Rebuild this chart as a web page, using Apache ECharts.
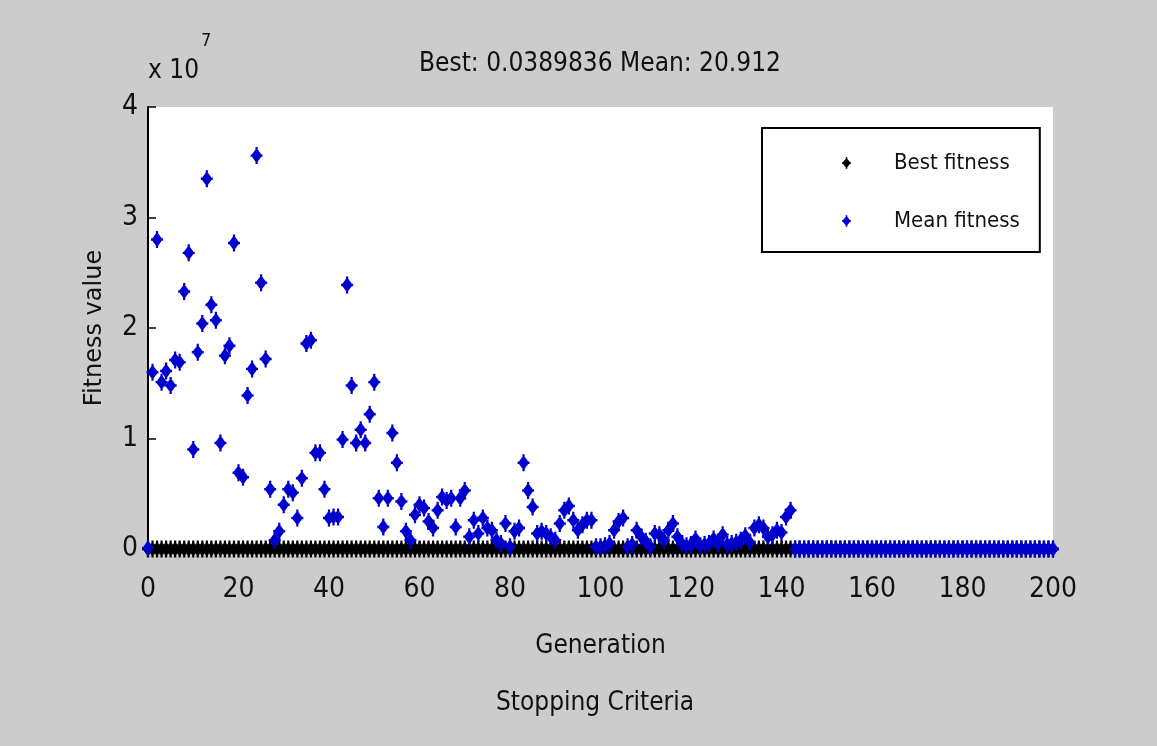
<!DOCTYPE html>
<html><head><meta charset="utf-8">
<script src="https://cdn.jsdelivr.net/npm/echarts@6/dist/echarts.min.js"></script>
<style>html,body{margin:0;padding:0;background:#cccccc;}#c{width:1157px;height:746px;}</style>
</head><body><div id="c"></div>
<script>
// values in units of 1e7
const xTicks = [0,20,40,60,80,100,120,140,160,180,200];
const yTicks = [0,1,2,3,4];
const bestFitness = [
0,0,0,0,0,0,0,0,0,0,0,0,0,0,0,0,0,0,0,0,
0,0,0,0,0,0,0,0,0,0,0,0,0,0,0,0,0,0,0,0,
0,0,0,0,0,0,0,0,0,0,0,0,0,0,0,0,0,0,0,0,
0,0,0,0,0,0,0,0,0,0,0,0,0,0,0,0,0,0,0,0,
0,0,0,0,0,0,0,0,0,0,0,0,0,0,0,0,0,0,0,0,
0,0,0,0,0,0,0,0,0,0,0,0,0,0,0,0,0,0,0,0,
0,0,0,0,0,0,0,0,0,0,0,0,0,0,0,0,0,0,0,0,
0,0,0,0,0,0,0,0,0,0,0,0,0,0,0,0,0,0,0,0,
0,0,0,0,0,0,0,0,0,0,0,0,0,0,0,0,0,0,0,0,
0,0,0,0,0,0,0,0,0,0,0,0,0,0,0,0,0,0,0,0,
0];
const meanFitness = [
0.01,1.60,2.80,1.51,1.61,1.48,1.71,1.69,2.33,2.68,0.90,1.78,2.04,3.35,2.21,2.07,0.96,1.75,1.84,2.77,
0.69,0.65,1.39,1.63,3.56,2.41,1.72,0.54,0.08,0.16,0.40,0.54,0.51,0.28,0.64,1.86,1.89,0.87,0.87,0.54,
0.28,0.29,0.29,0.99,2.39,1.48,0.96,1.08,0.96,1.22,1.51,0.46,0.20,0.46,1.05,0.78,0.43,0.16,0.08,0.31,
0.40,0.37,0.25,0.19,0.35,0.47,0.44,0.46,0.20,0.46,0.53,0.11,0.26,0.14,0.28,0.19,0.17,0.08,0.05,0.23,
0.02,0.16,0.19,0.78,0.53,0.38,0.14,0.16,0.14,0.11,0.08,0.23,0.35,0.39,0.26,0.17,0.22,0.26,0.26,0.02,
0.02,0.03,0.05,0.17,0.25,0.28,0.02,0.04,0.17,0.11,0.07,0.02,0.14,0.13,0.08,0.17,0.23,0.11,0.05,0.03,
0.04,0.09,0.03,0.04,0.05,0.09,0.05,0.13,0.04,0.05,0.06,0.08,0.12,0.06,0.19,0.22,0.19,0.11,0.13,0.17,
0.15,0.29,0.35,0,0,0,0,0,0,0,0,0,0,0,0,0,0,0,0,0,
0,0,0,0,0,0,0,0,0,0,0,0,0,0,0,0,0,0,0,0,
0,0,0,0,0,0,0,0,0,0,0,0,0,0,0,0,0,0,0,0,
0];
const toPts = arr => arr.map((v,i)=>[i,v]);
const FONT = '"DejaVu Sans Condensed", "Liberation Sans Narrow", "Roboto Condensed", sans-serif';
const marker = 'path://M0,-8 L6.5,0 L0,8 L-6.5,0 Z M-1.3,-9 L1.3,-9 L1.3,9 L-1.3,9 Z M-7,-1.3 L7,-1.3 L7,1.3 L-7,1.3 Z';
const chart = echarts.init(document.getElementById('c'));
chart.setOption({
  backgroundColor:'#cccccc',
  animation:false,
  title:{text:'Best: 0.0389836 Mean: 20.912', left:595, top:46, textAlign:'center',
    textStyle:{fontFamily:FONT,fontSize:26,fontWeight:'normal',color:'#111'}},
  grid:{left:148, top:107, width:905, height:442, show:true, backgroundColor:'#ffffff', borderWidth:0},
  legend:{left:762, top:128, orient:'vertical', selectedMode:false,
    data:['Best fitness','Mean fitness'],
    itemWidth:9, itemHeight:14, itemGap:36,
    padding:[24,20,20,80],
    backgroundColor:'#ffffff', borderColor:'#000', borderWidth:2,
    textStyle:{fontFamily:FONT,fontSize:22,color:'#111',padding:[0,0,0,38]}},
  xAxis:{type:'value', min:0, max:200, interval:20,
    name:'Generation', nameLocation:'middle', nameGap:84,
    nameTextStyle:{fontFamily:FONT,fontSize:26,color:'#111'},
    axisLine:{show:true,onZero:false,lineStyle:{color:'#000',width:2}},
    axisTick:{show:true,inside:true,length:8,lineStyle:{color:'#000',width:1.5}},
    axisLabel:{fontFamily:FONT,fontSize:28,color:'#111',margin:27},
    splitLine:{show:false}},
  yAxis:{type:'value', min:0, max:4, interval:1,
    name:'Fitness value', nameLocation:'middle', nameGap:41,
    nameTextStyle:{fontFamily:'"DejaVu Sans", sans-serif',fontSize:24,color:'#111'},
    axisLine:{show:true,lineStyle:{color:'#000',width:2}},
    axisTick:{show:true,inside:true,length:8,lineStyle:{color:'#000',width:1.5}},
    axisLabel:{fontFamily:FONT,fontSize:28,color:'#111',margin:10},
    splitLine:{show:false}},
  graphic:[
    {type:'text', x:148, y:58, style:{text:'x 10', fontFamily:FONT, fontSize:26, fill:'#111'}},
    {type:'text', x:201, y:32, style:{text:'7', fontFamily:FONT, fontSize:18, fill:'#111'}},
    {type:'text', x:595, y:690, style:{text:'Stopping Criteria', fontFamily:FONT, fontSize:26, fill:'#111', textAlign:'center'}}
  ],
  series:[
    {name:'Best fitness', type:'scatter', data:toPts(bestFitness), symbol:marker, symbolSize:[12,17],
      itemStyle:{color:'#000000', opacity:1}, z:2},
    {name:'Mean fitness', type:'scatter', data:toPts(meanFitness), symbol:marker, symbolSize:[12,17],
      itemStyle:{color:'#0000cd', opacity:1}, z:3}
  ]
});
</script></body></html>
